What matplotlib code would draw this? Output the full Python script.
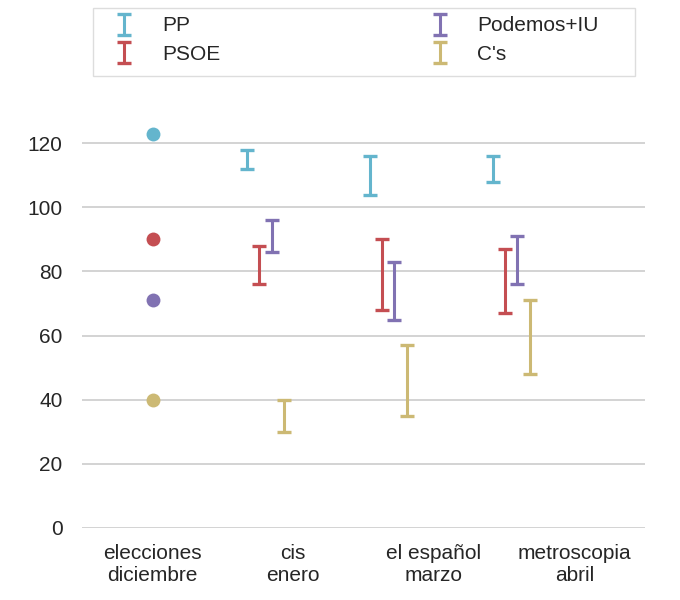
import matplotlib
matplotlib.use("Agg")
import matplotlib.pyplot as plt
from matplotlib.patches import Rectangle
import numpy as np

# -------------------------------------------------------------
# Data
# -------------------------------------------------------------
categories = ["elecciones\ndiciembre", "cis\nenero", "el español\nmarzo", "metroscopia\nabril"]
parties = ["PP", "PSOE", "Podemos+IU", "C's"]
colors = ["#64B5CD", "#C44E52", "#8172B2", "#CCB974"]

# election results (December)
elecciones = [123, 90, 71, 40]

# poll ranges (low, high) per party, for cis / el español / metroscopia
pp_low = [112, 104, 108]
pp_high = [118, 116, 116]
psoe_low = [76, 68, 67]
psoe_high = [88, 90, 87]
podemos_low = [86, 65, 76]
podemos_high = [96, 83, 91]
cs_low = [30, 35, 48]
cs_high = [40, 57, 71]

lows = [pp_low, psoe_low, podemos_low, cs_low]
highs = [pp_high, psoe_high, podemos_high, cs_high]

# -------------------------------------------------------------
# Layout
# -------------------------------------------------------------
elecciones_x = 0.23
poll_x = np.array([1.0, 2.0, 3.0])
party_step = 0.1
tick_x = [0.23, 1.375, 2.52, 3.665]

plt.rcParams["font.family"] = ["Liberation Sans", "DejaVu Sans"]
text_color = "#262626"

W, H = 680, 600
fig = plt.figure(figsize=(W / 100, H / 100), dpi=100)
ax = fig.add_axes([0.1206, 0.1208, 0.8279, 0.6934])

for k, (name, c) in enumerate(zip(parties, colors)):
    lo = np.array(lows[k])
    hi = np.array(highs[k])
    mid = (lo + hi) / 2
    half = (hi - lo) / 2
    ax.errorbar(poll_x + k * party_step, mid, yerr=half, fmt="none",
                ecolor=c, elinewidth=2.2, capsize=5, capthick=2.4,
                label=name, zorder=3)
    ax.plot([elecciones_x], [elecciones[k]], "o", color=c, ms=10,
            mec="none", zorder=3)

ax.set_xlim(-0.345, 4.24)
ax.set_ylim(0, 130)
ax.set_yticks(np.arange(0, 121, 20))
ax.set_xticks(tick_x)
ax.set_xticklabels(categories)

ax.yaxis.grid(True, color="#cccccc", linewidth=1.2)
ax.xaxis.grid(False)
ax.set_axisbelow(True)
for s in ax.spines.values():
    s.set_visible(False)
ax.tick_params(axis="both", length=0, labelsize=15, labelcolor=text_color)
ax.tick_params(axis="y", pad=14)
ax.tick_params(axis="x", pad=12)

# -------------------------------------------------------------
# Legend (frame drawn separately so it spans the full width)
# -------------------------------------------------------------
leg = ax.legend(ncol=2, loc="upper left",
                bbox_to_anchor=(93 / W, 1 - 6 / H),
                bbox_transform=fig.transFigure, borderaxespad=0,
                fontsize=15, frameon=False, borderpad=0.5,
                labelspacing=0.45, handletextpad=0.8, columnspacing=9.55)
for t in leg.get_texts():
    t.set_color(text_color)

fig.add_artist(Rectangle((93 / W, 1 - 76 / H), 542 / W, 68 / H,
                         transform=fig.transFigure, fill=False,
                         edgecolor="#dddddd", linewidth=1.0))

fig.savefig("out.png", dpi=100, facecolor="white")
